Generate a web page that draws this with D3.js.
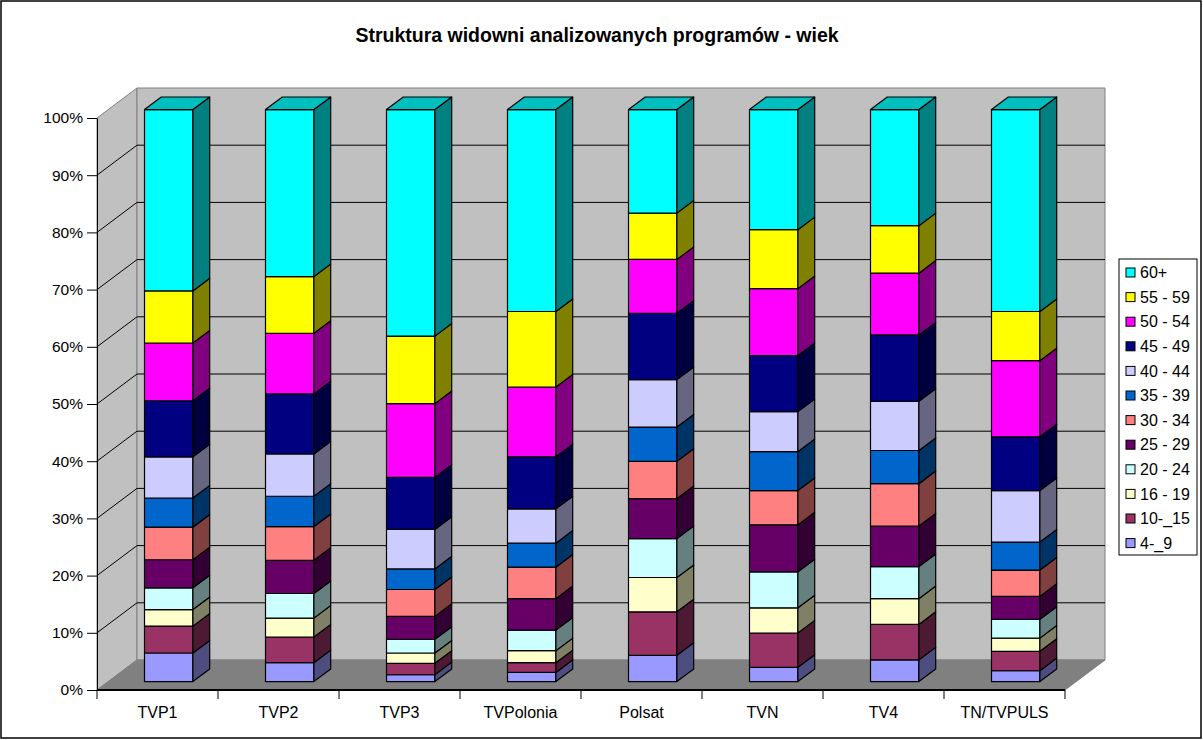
<!DOCTYPE html>
<html>
<head>
<meta charset="utf-8">
<script src="https://cdn.jsdelivr.net/npm/d3@7"></script>
<style>
    body { margin: 0; background: #fff; }
    text { font-family: "Liberation Sans", Arial, sans-serif; fill: #000; }
</style>
</head>
<body>
<div id="chart"></div>
<script>
const categories = ["TVP1", "TVP2", "TVP3", "TVPolonia", "Polsat", "TVN", "TV4", "TN/TVPULS"];
// age groups, bottom of the stack first
const ageGroups = ["4-_9", "10-_15", "16 - 19", "20 - 24", "25 - 29", "30 - 34",
                   "35 - 39", "40 - 44", "45 - 49", "50 - 54", "55 - 59", "60+"];

// share of audience (%) per channel
const age4_9   = [5.0, 3.3, 1.2, 1.6, 4.6, 2.5, 3.8, 1.9];
const age10_15 = [4.7, 4.5, 2.0, 1.7, 7.6, 6.0, 6.2, 3.4];
const age16_19 = [2.9, 3.3, 1.8, 2.1, 6.0, 4.4, 4.5, 2.3];
const age20_24 = [3.8, 4.3, 2.4, 3.6, 6.8, 6.3, 5.6, 3.3];
const age25_29 = [4.9, 5.8, 4.0, 5.5, 7.0, 8.2, 7.1, 4.0];
const age30_34 = [5.7, 5.9, 4.7, 5.5, 6.5, 6.0, 7.4, 4.6];
const age35_39 = [5.1, 5.3, 3.6, 4.2, 6.0, 6.8, 5.8, 4.9];
const age40_44 = [7.2, 7.4, 6.9, 6.0, 8.3, 7.0, 8.6, 9.0];
const age45_49 = [9.8, 10.5, 9.1, 9.1, 11.6, 9.8, 11.6, 9.4];
const age50_54 = [10.1, 10.6, 12.9, 12.2, 9.4, 11.7, 10.8, 13.3];
const age55_59 = [9.1, 9.9, 11.8, 13.2, 8.1, 10.3, 8.3, 8.6];
const age60    = [31.7, 29.2, 39.6, 35.3, 18.1, 21.0, 20.3, 35.3];

const seriesValues = [age4_9, age10_15, age16_19, age20_24, age25_29, age30_34,
                      age35_39, age40_44, age45_49, age50_54, age55_59, age60];

const yTicks = [0, 0.1, 0.2, 0.3, 0.4, 0.5, 0.6, 0.7, 0.8, 0.9, 1];

const colors = ["#9999FF", "#993366", "#FFFFCC", "#CCFFFF", "#660066", "#FF8080",
                "#0066CC", "#CCCCFF", "#000080", "#FF00FF", "#FFFF00", "#00FFFF"];

function shade(c, k) {
    const r = d3.rgb(c);
    return d3.rgb(r.r * k, r.g * k, r.b * k).formatHex();
}

function initChart() {
    const width = 1203;
    const height = 740;
    const depth = { x: 40, y: -30 };
    const barFront = 0.28, barBack = 0.70;

    const svg = d3.select("#chart")
        .append("svg")
        .attr("width", width)
        .attr("height", height);

    svg.append("rect")
        .attr("x", 1).attr("y", 1)
        .attr("width", width - 3).attr("height", height - 3)
        .attr("fill", "#fff")
        .attr("stroke", "#000")
        .attr("stroke-width", 1.5);

    svg.append("text")
        .attr("x", 597)
        .attr("y", 42)
        .attr("text-anchor", "middle")
        .style("font-size", "19.5px")
        .style("font-weight", "bold")
        .text("Struktura widowni analizowanych programów - wiek");

    const xScale = d3.scaleBand()
        .domain(categories)
        .range([97, 1065]);

    const yScale = d3.scaleLinear()
        .domain([0, 1])
        .range([690, 118]);

    const x0 = xScale.range()[0], x1 = xScale.range()[1];
    const P = (x, v, t) => [x + depth.x * t, yScale(v) + depth.y * t];
    const poly = pts => pts.map(p => p.join(",")).join(" ");

    // walls and floor
    svg.append("polygon")
        .attr("points", poly([P(x0, 0, 0), P(x0, 0, 1), P(x0, 1, 1), P(x0, 1, 0)]))
        .attr("fill", "#C0C0C0")
        .attr("stroke", "#808080");

    svg.append("polygon")
        .attr("points", poly([P(x0, 0, 1), P(x1, 0, 1), P(x1, 1, 1), P(x0, 1, 1)]))
        .attr("fill", "#C0C0C0")
        .attr("stroke", "#808080");

    svg.append("polygon")
        .attr("points", poly([P(x0, 0, 0), P(x1, 0, 0), P(x1, 0, 1), P(x0, 0, 1)]))
        .attr("fill", "#808080")
        .attr("stroke", "#808080");

    // gridlines on the side wall and back wall
    const grid = yTicks.filter(v => v > 0 && v < 1);
    svg.append("g")
        .selectAll("polyline")
        .data(grid)
        .enter()
        .append("polyline")
        .attr("points", v => poly([P(x0, v, 0), P(x0, v, 1), P(x1, v, 1)]))
        .attr("fill", "none")
        .attr("stroke", "#000");

    // stacked 100% bars
    const table = categories.map((c, i) => {
        const row = { category: c };
        ageGroups.forEach((g, j) => { row[g] = seriesValues[j][i]; });
        return row;
    });

    const stacked = d3.stack()
        .keys(ageGroups)
        .offset(d3.stackOffsetExpand)(table);

    const bw = xScale.bandwidth() * 0.4;
    const bx = d => xScale(d.data.category) + (xScale.bandwidth() - bw) / 2;

    const layers = svg.append("g")
        .selectAll("g")
        .data(stacked)
        .enter()
        .append("g");

    layers.selectAll(".front")
        .data(s => s.map(d => ({ d: d, c: colors[s.index] })))
        .enter()
        .append("polygon")
        .attr("points", o => poly([
            P(bx(o.d), o.d[0], barFront), P(bx(o.d) + bw, o.d[0], barFront),
            P(bx(o.d) + bw, o.d[1], barFront), P(bx(o.d), o.d[1], barFront)]))
        .attr("fill", o => o.c)
        .attr("stroke", "#000")
        .attr("stroke-width", 1.2)
        .attr("stroke-linejoin", "round");

    layers.selectAll(".side")
        .data(s => s.map(d => ({ d: d, c: colors[s.index] })))
        .enter()
        .append("polygon")
        .attr("points", o => poly([
            P(bx(o.d) + bw, o.d[0], barFront), P(bx(o.d) + bw, o.d[0], barBack),
            P(bx(o.d) + bw, o.d[1], barBack), P(bx(o.d) + bw, o.d[1], barFront)]))
        .attr("fill", o => shade(o.c, 0.5))
        .attr("stroke", "#000")
        .attr("stroke-width", 1.2)
        .attr("stroke-linejoin", "round");

    const topLayer = stacked[stacked.length - 1];
    svg.append("g")
        .selectAll("polygon")
        .data(topLayer)
        .enter()
        .append("polygon")
        .attr("points", d => poly([
            P(bx(d), d[1], barFront), P(bx(d) + bw, d[1], barFront),
            P(bx(d) + bw, d[1], barBack), P(bx(d), d[1], barBack)]))
        .attr("fill", shade(colors[colors.length - 1], 0.75))
        .attr("stroke", "#000")
        .attr("stroke-width", 1.2)
        .attr("stroke-linejoin", "round");

    // value axis
    const yAxis = svg.append("g")
        .attr("transform", `translate(${x0}, 0)`)
        .call(d3.axisLeft(yScale)
            .tickValues(yTicks)
            .tickFormat(d3.format(".0%"))
            .tickSize(10)
            .tickSizeOuter(0)
            .tickPadding(4));
    yAxis.selectAll("text").style("font-size", "15.5px").style("font-family", null);
    yAxis.selectAll("line, path").attr("stroke", "#000");

    // category axis
    svg.append("line")
        .attr("x1", x0).attr("x2", x1)
        .attr("y1", yScale(0)).attr("y2", yScale(0))
        .attr("stroke", "#000")
        .attr("stroke-width", 2);

    svg.append("g")
        .selectAll("line")
        .data(categories.map(c => xScale(c)).concat([x1]))
        .enter()
        .append("line")
        .attr("x1", d => d).attr("x2", d => d)
        .attr("y1", yScale(0)).attr("y2", yScale(0) + 9)
        .attr("stroke", "#000");

    const xAxis = svg.append("g")
        .attr("transform", `translate(0, ${yScale(0)})`)
        .call(d3.axisBottom(xScale).tickSize(0).tickPadding(17));
    xAxis.select(".domain").remove();
    xAxis.selectAll("text").style("font-size", "16px").style("font-family", null);

    // legend, top entry first
    const legend = svg.append("g");
    legend.append("rect")
        .attr("x", 1119).attr("y", 259)
        .attr("width", 78).attr("height", 296)
        .attr("fill", "#fff")
        .attr("stroke", "#000");

    const entries = ageGroups.map((g, i) => ({ name: g, color: colors[i] })).reverse();
    const item = legend.selectAll(".item")
        .data(entries)
        .enter()
        .append("g")
        .attr("transform", (d, i) => `translate(1126, ${272.5 + i * 24.6})`);

    item.append("rect")
        .attr("x", 0).attr("y", -4.5)
        .attr("width", 9).attr("height", 9)
        .attr("fill", d => d.color)
        .attr("stroke", "#000");

    item.append("text")
        .attr("x", 14)
        .attr("dy", "0.36em")
        .style("font-size", "16px")
        .text(d => d.name);
}

initChart();
</script>
</body>
</html>
